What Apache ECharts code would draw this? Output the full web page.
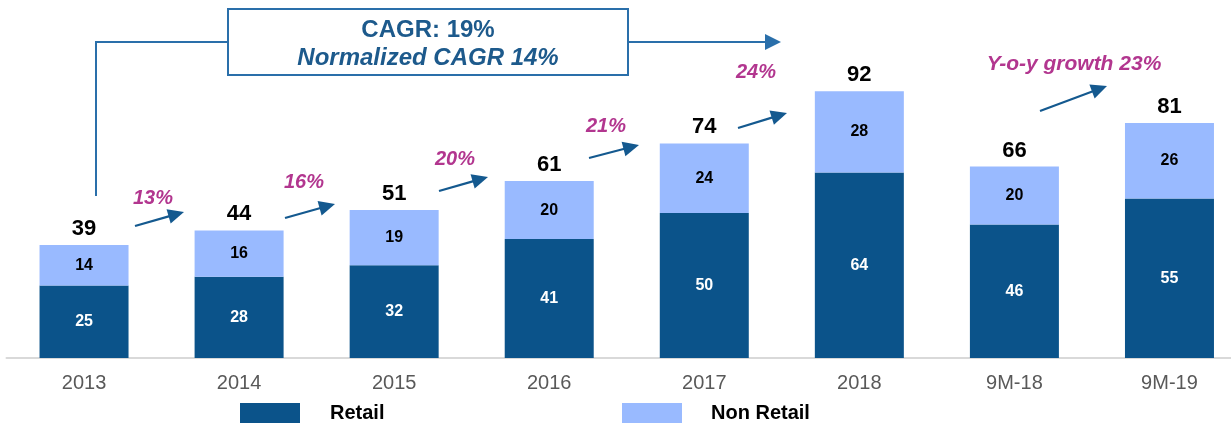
<!DOCTYPE html>
<html>
<head>
<meta charset="utf-8">
<script src="https://cdn.jsdelivr.net/npm/echarts@6/dist/echarts.min.js"></script>
<style>
html,body{margin:0;padding:0;background:#fff;}
#c{width:1231px;height:423px;}
</style>
</head>
<body>
<div id="c"></div>
<script>
const categories = ['2013','2014','2015','2016','2017','2018','9M-18','9M-19'];
const retail = [25, 28, 32, 41, 50, 64, 46, 55];
const nonRetail = [14, 16, 19, 20, 24, 28, 20, 26];
const totals = [39, 44, 51, 61, 74, 92, 66, 81];
const growthLabels = ['13%','16%','20%','21%','24%'];
const cagrText = 'CAGR: 19%';
const normCagrText = 'Normalized CAGR 14%';
const yoyText = 'Y-o-y growth 23%';

const DARK = '#0B538A';
const LIGHT = '#99BAFF';
const MAG = '#B2368F';
const ARROW = '#14598F';
const BOXBLUE = '#2A6FAA';
const FONT = '"Liberation Sans", Arial, sans-serif';

const chart = echarts.init(document.getElementById('c'), null, {renderer:'canvas'});

function arrow(x1,y1,x2,y2,color,w,hl,hw){
  const dx=x2-x1, dy=y2-y1, L=Math.sqrt(dx*dx+dy*dy), ux=dx/L, uy=dy/L;
  const bx=x2-ux*hl, by=y2-uy*hl;
  const px=-uy, py=ux;
  return [
    {type:'line', shape:{x1:x1,y1:y1,x2:bx+ux*1,y2:by+uy*1}, style:{stroke:color,lineWidth:w}, silent:true},
    {type:'polygon', shape:{points:[[x2,y2],[bx+px*hw,by+py*hw],[bx-px*hw,by-py*hw]]}, style:{fill:color}, silent:true}
  ];
}

const smallArrows = [
  [135,226,184,212],
  [285,218,335,204],
  [439,191,488,177],
  [589,158,639,145],
  [738,128,787,113]
];
const pctPos = [[153,198],[304,182],[455,159],[606,126],[756,72]];

let graphics = [];
graphics.push({type:'polyline', shape:{points:[[96,196],[96,42],[228,42]]}, style:{stroke:BOXBLUE,lineWidth:2,fill:null}, silent:true});
graphics.push({type:'rect', shape:{x:228,y:9,width:400,height:66}, style:{stroke:BOXBLUE,lineWidth:2,fill:'#fff'}, silent:true});
graphics = graphics.concat(arrow(628,42,781,42,BOXBLUE,2,16,8));
graphics.push({type:'text', x:428, y:30, style:{text:cagrText, font:'bold 24px '+FONT, fill:'#1D5A8C', align:'center', verticalAlign:'middle'}, silent:true});
graphics.push({type:'text', x:428, y:58, style:{text:normCagrText, font:'italic bold 24px '+FONT, fill:'#1D5A8C', align:'center', verticalAlign:'middle'}, silent:true});
smallArrows.forEach(a=>{ graphics = graphics.concat(arrow(a[0],a[1],a[2],a[3],ARROW,2.2,16,7.5)); });
growthLabels.forEach((t,i)=>{
  graphics.push({type:'text', x:pctPos[i][0], y:pctPos[i][1], style:{text:t, font:'italic bold 20px '+FONT, fill:MAG, align:'center', verticalAlign:'middle'}, silent:true});
});
graphics = graphics.concat(arrow(1040,111,1107,86,ARROW,2.2,16,7.5));
graphics.push({type:'text', x:1074, y:64, style:{text:yoyText, font:'italic bold 21px '+FONT, fill:MAG, align:'center', verticalAlign:'middle'}, silent:true});

chart.setOption({
  animation:false,
  backgroundColor:'#fff',
  grid:{left:6.5, right:-16, top:68, bottom:65, containLabel:false, outerBoundsMode:'none'},
  legend:[
    {data:['Retail'], left:240, top:403, padding:0, itemWidth:60, itemHeight:20, icon:'rect',
     textStyle:{fontFamily:FONT, fontWeight:'bold', fontSize:20, color:'#000', padding:[0,0,0,25]}},
    {data:['Non Retail'], left:622, top:403, padding:0, itemWidth:60, itemHeight:20, icon:'rect',
     textStyle:{fontFamily:FONT, fontWeight:'bold', fontSize:20, color:'#000', padding:[0,0,0,24]}}
  ],
  xAxis:{
    type:'category', data:categories,
    axisLine:{show:true, lineStyle:{color:'#D9D9D9', width:2}},
    axisTick:{show:false},
    axisLabel:{fontFamily:FONT, fontSize:20, color:'#595959', margin:15}
  },
  yAxis:{type:'value', min:0, max:100, show:false, splitLine:{show:false}},
  series:[
    {name:'Retail', type:'bar', stack:'s', data:retail, barWidth:89,
     itemStyle:{color:DARK},
     label:{show:true, position:'inside', color:'#fff', fontFamily:FONT, fontWeight:'bold', fontSize:16}},
    {name:'Non Retail', type:'bar', stack:'s', data:nonRetail, barWidth:89,
     itemStyle:{color:LIGHT},
     label:{show:true, position:'inside', color:'#000', fontFamily:FONT, fontWeight:'bold', fontSize:16}},
    {name:'Total', type:'bar', data:totals, barWidth:89, barGap:'-100%', z:1,
     itemStyle:{color:'rgba(0,0,0,0)'}, silent:true,
     label:{show:true, position:'top', distance:5, color:'#000', fontFamily:FONT, fontWeight:'bold', fontSize:22}}
  ],
  graphic:graphics
});
</script>
</body>
</html>
